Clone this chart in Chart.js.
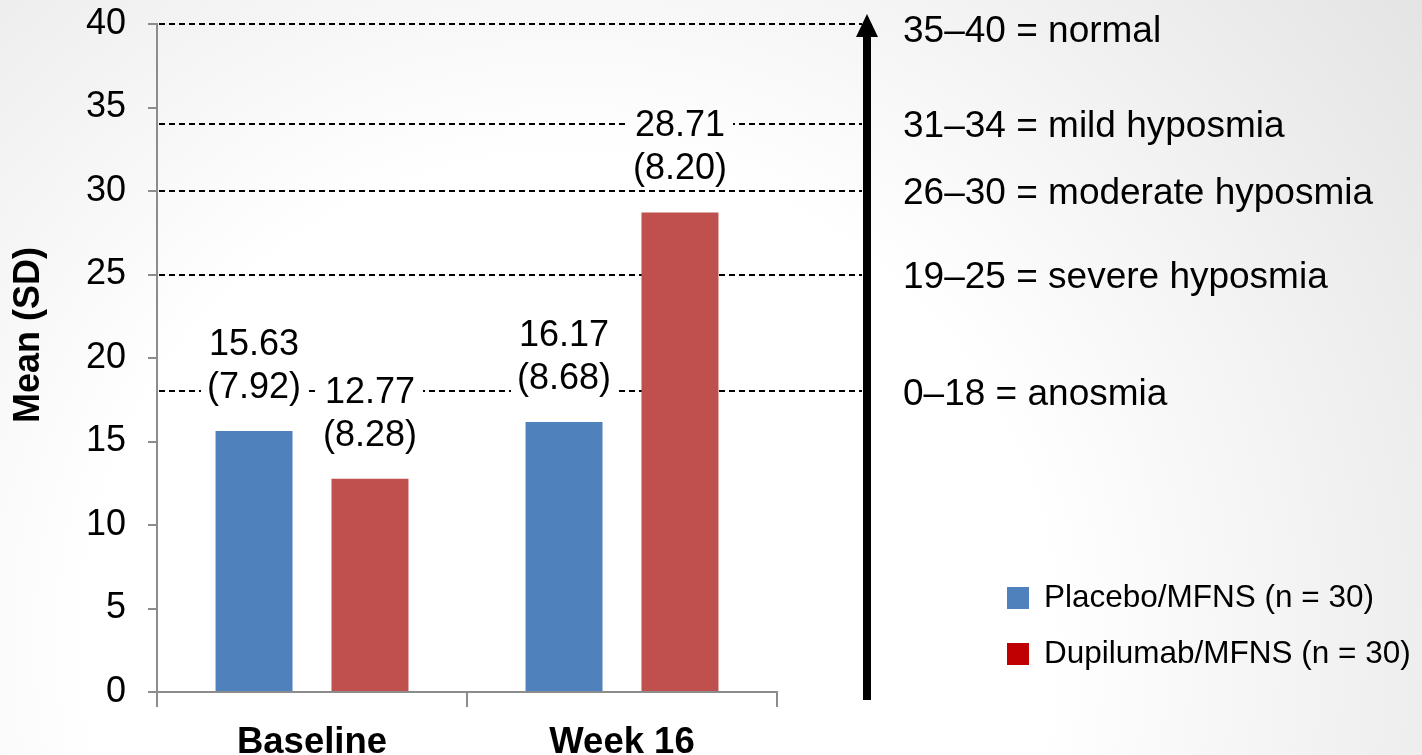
<!DOCTYPE html>
<html>
<head>
<meta charset="utf-8">
<script src="https://cdn.jsdelivr.net/npm/chart.js@4.4.1/dist/chart.umd.min.js"></script>
<style>
  html, body {
    margin: 0;
    padding: 0;
    width: 1422px;
    height: 755px;
    overflow: hidden;
    background: radial-gradient(circle farthest-corner at 40% 85%, #ffffff 0%, #ffffff 45%, #e4e4e4 100%);
  }
  canvas { display: block; }
</style>
</head>
<body>
<canvas id="chart" width="1422" height="755"></canvas>
<script>
// Smell-test score by visit: mean and SD for each arm
const categories = ['Baseline', 'Week 16'];
const placeboMean = [15.63, 16.17];
const placeboSD = [7.92, 8.68];
const dupilumabMean = [12.77, 28.71];
const dupilumabSD = [8.28, 8.20];
const seriesNames = ['Placebo/MFNS (n = 30)', 'Dupilumab/MFNS (n = 30)'];

// Value axis
const yMin = 0;
const yMax = 40;
const yStep = 5;
const yTitle = 'Mean (SD)';

// Severity bands: upper cut-off of each band and its description
const bandCutoffs = [40, 34, 30, 25, 18];
const bandNames = [
  '35\u201340 = normal',
  '31\u201334 = mild hyposmia',
  '26\u201330 = moderate hyposmia',
  '19\u201325 = severe hyposmia',
  '0\u201318 = anosmia'
];

const FONT = '"Liberation Sans", Arial, Helvetica, sans-serif';
const AXIS_GREY = '#8c8c8c';
const ARROW_X = 867;
const LABEL_FONT = '36px ' + FONT;
const LABEL_LINE = 43;
const LABEL_GAP = 43;

Chart.defaults.font.family = FONT;
Chart.defaults.color = '#000';

// Two-line "mean (SD)" label above each bar, with the box it occupies
function valueLabels(chart) {
  const ctx = chart.ctx;
  const out = [];
  ctx.save();
  ctx.font = LABEL_FONT;
  chart.data.datasets.forEach((ds, i) => {
    const meta = chart.getDatasetMeta(i);
    meta.data.forEach((bar, j) => {
      const lines = [ds.data[j].toFixed(2), '(' + ds.sd[j].toFixed(2) + ')'];
      const w = Math.max(...lines.map(t => ctx.measureText(t).width));
      const y2 = bar.y - LABEL_GAP;
      const y1 = y2 - LABEL_LINE;
      out.push({
        x: bar.x, lines, ys: [y1, y2],
        box: { x: bar.x - w / 2 - 6, y: y1 - 20, w: w + 12, h: (y2 + 18) - (y1 - 20) }
      });
    });
  });
  ctx.restore();
  return out;
}

const overlayPlugin = {
  id: 'overlay',
  beforeDatasetsDraw(chart) {
    const { ctx, chartArea, scales: { y } } = chart;
    ctx.save();
    ctx.strokeStyle = '#000';
    ctx.lineWidth = 2;
    ctx.setLineDash([6, 4]);
    bandCutoffs.forEach(v => {
      const py = Math.round(y.getPixelForValue(v));
      ctx.beginPath();
      ctx.moveTo(chartArea.left + 2, py);
      ctx.lineTo(ARROW_X - 5, py);
      ctx.stroke();
    });
    ctx.restore();
    // keep the dashed lines out from behind the value labels
    valueLabels(chart).forEach(l => ctx.clearRect(l.box.x, l.box.y, l.box.w, l.box.h));
  },
  afterDatasetsDraw(chart) {
    const ctx = chart.ctx;
    ctx.save();
    ctx.font = LABEL_FONT;
    ctx.fillStyle = '#000';
    ctx.textAlign = 'center';
    ctx.textBaseline = 'middle';
    valueLabels(chart).forEach(l => {
      l.lines.forEach((t, k) => ctx.fillText(t, l.x, l.ys[k]));
    });
    ctx.restore();
  },
  afterDraw(chart) {
    const { ctx, chartArea, scales: { y } } = chart;
    ctx.save();

    // upward arrow beside the bands
    ctx.fillStyle = '#000';
    ctx.fillRect(ARROW_X - 4, 34, 8, y.getPixelForValue(yMin) + 8 - 34);
    ctx.beginPath();
    ctx.moveTo(ARROW_X, 14);
    ctx.lineTo(ARROW_X + 11, 37);
    ctx.lineTo(ARROW_X - 11, 37);
    ctx.closePath();
    ctx.fill();

    // band descriptions
    ctx.font = '37px ' + FONT;
    ctx.textAlign = 'left';
    ctx.textBaseline = 'middle';
    bandCutoffs.forEach((v, k) => {
      const py = Math.max(y.getPixelForValue(v), chartArea.top + 5) + 3;
      ctx.fillText(bandNames[k], ARROW_X + 36, py);
    });

    // legend
    ctx.font = '31.5px ' + FONT;
    chart.data.datasets.forEach((ds, i) => {
      const cy = 598 + i * 56;
      ctx.fillStyle = ds.legendColor;
      ctx.fillRect(1007, cy - 11, 22, 22);
      ctx.fillStyle = '#000';
      ctx.fillText(ds.label, 1044, cy);
    });

    // value axis title
    ctx.translate(29.5, 335);
    ctx.rotate(-Math.PI / 2);
    ctx.font = 'bold 36px ' + FONT;
    ctx.textAlign = 'center';
    ctx.textBaseline = 'middle';
    ctx.fillText(yTitle, 0, 0);

    ctx.restore();
  }
};

new Chart(document.getElementById('chart'), {
  type: 'bar',
  data: {
    labels: categories,
    datasets: [
      { label: seriesNames[0], data: placeboMean, sd: placeboSD,
        backgroundColor: '#4f81bd', legendColor: '#4f81bd' },
      { label: seriesNames[1], data: dupilumabMean, sd: dupilumabSD,
        backgroundColor: '#c0504d', legendColor: '#c00000' }
    ]
  },
  options: {
    responsive: false,
    devicePixelRatio: 1,
    animation: false,
    events: [],
    categoryPercentage: 0.748,
    barPercentage: 0.664,
    layout: { padding: { top: 24, right: 645, bottom: 0, left: 0 } },
    plugins: {
      legend: { display: false },
      tooltip: { enabled: false }
    },
    scales: {
      x: {
        offset: true,
        grid: {
          display: true, drawOnChartArea: false, drawTicks: true,
          tickLength: 15, color: AXIS_GREY, lineWidth: 2, offset: true
        },
        border: { display: true, color: AXIS_GREY, width: 2 },
        ticks: {
          font: { size: 36.5, weight: 'bold', lineHeight: 1.2 },
          padding: 14, color: '#000'
        },
        afterFit(scale) { scale.height = 63; }
      },
      y: {
        min: yMin,
        max: yMax,
        grid: {
          display: true, drawOnChartArea: false, drawTicks: true,
          tickLength: 9, color: AXIS_GREY, lineWidth: 2
        },
        border: { display: true, color: AXIS_GREY, width: 2 },
        ticks: {
          stepSize: yStep,
          font: { size: 36, lineHeight: 1.2 },
          padding: 22, color: '#000'
        },
        afterFit(scale) {
          scale.width = 157;
          scale.paddingTop = 0;
          scale.paddingBottom = 0;
        }
      }
    }
  },
  plugins: [overlayPlugin]
});
</script>
</body>
</html>
